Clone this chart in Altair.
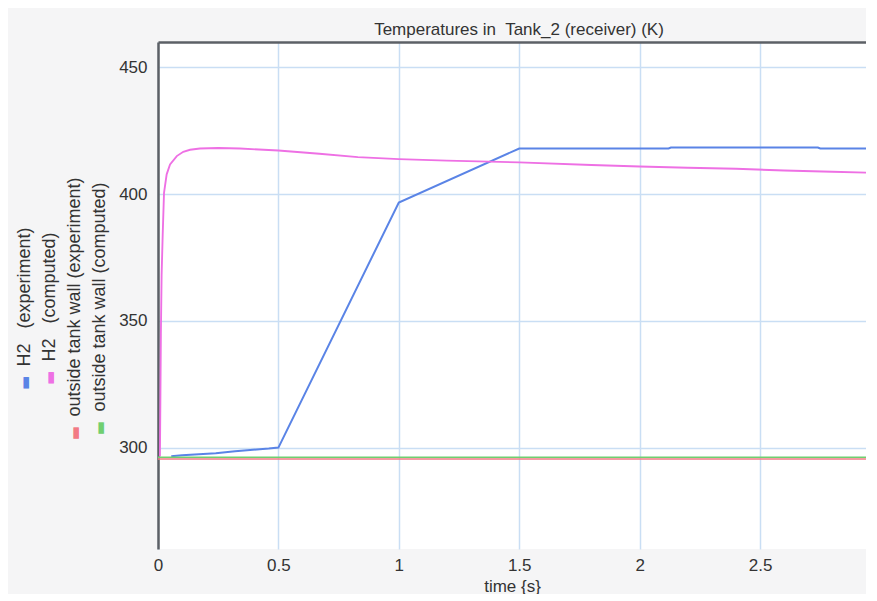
import altair as alt
import pandas as pd

# ---- data ----
series_names = [
    "H2 (experiment)",
    "H2 (computed)",
    "outside tank wall (experiment)",
    "outside tank wall (computed)",
]
legend_labels = [
    "H2\u00a0\u00a0\u00a0(experiment)",
    "H2\u00a0\u00a0\u00a0(computed)",
    "outside tank wall (experiment)",
    "outside tank wall (computed)",
]
series_colors = ["#5a84e6", "#ee70e4", "#f27a84", "#70cf70"]

h2_exp_time = [0.055, 0.10, 0.17, 0.24, 0.32, 0.37, 0.46, 0.50, 1.00, 1.50, 2.12, 2.13, 2.74, 2.75, 3.00]
h2_exp_temp = [296.6, 297.0, 297.4, 297.8, 298.6, 299.0, 299.6, 300.0, 396.7, 418.0, 418.0, 418.4, 418.4, 418.0, 418.0]

h2_comp_time = [0.008, 0.010, 0.012, 0.015, 0.0195, 0.025, 0.036, 0.05, 0.078, 0.105, 0.133, 0.174,
                0.25, 0.34, 0.50, 0.67, 0.83, 1.00, 1.20, 1.50, 1.80, 2.00, 2.20, 2.40, 2.60, 2.80, 3.00]
h2_comp_temp = [296.5, 320.0, 345.0, 368.0, 384.0, 400.5, 407.8, 411.7, 415.0, 416.7, 417.5, 418.0,
                418.2, 418.0, 417.2, 415.9, 414.6, 413.8, 413.2, 412.5, 411.5, 410.9, 410.4, 410.0, 409.3, 408.8, 408.3]

wall_exp_time = [0.0, 3.0]
wall_exp_temp = [295.5, 295.5]

wall_comp_time = [0.0, 3.0]
wall_comp_temp = [296.2, 296.2]

x_ticks = [0, 0.5, 1, 1.5, 2, 2.5, 3]
y_ticks = [300, 350, 400, 450]

# ---- tables ----
rows = []
for name, ts, vs in zip(series_names,
                        [h2_exp_time, h2_comp_time, wall_exp_time, wall_comp_time],
                        [h2_exp_temp, h2_comp_temp, wall_exp_temp, wall_comp_temp]):
    for i, (t, v) in enumerate(zip(ts, vs)):
        rows.append({"series": name, "t": t, "T": v, "i": i})
df = pd.DataFrame(rows)

legend_df = pd.DataFrame({"series": series_names, "label": legend_labels})

FONT = "Liberation Sans, Arial, Helvetica, sans-serif"
TEXT = "#333333"
GRID = "#c9def4"
AXIS = "#5c6066"

color_scale = alt.Scale(domain=series_names, range=series_colors)
x_scale = alt.Scale(domain=[0, 2.94], nice=False, zero=False)
y_scale = alt.Scale(domain=[260, 460], nice=False, zero=False)

y_axis = alt.Axis(values=y_ticks, title=None, ticks=False, labelPadding=11,
                  labelFontSize=17, labelColor=TEXT, labelFont=FONT,
                  domainColor=AXIS, domainWidth=2.5, gridColor=GRID, gridWidth=1.5)

x_axis_bottom = alt.Axis(values=x_ticks, format="~g", title="time {s}", ticks=False,
                         domain=False, labelPadding=8, labelFontSize=17, labelColor=TEXT,
                         labelFont=FONT, titleFont=FONT, titleFontSize=17, titleColor=TEXT,
                         titleFontWeight="normal", titlePadding=5,
                         gridColor=GRID, gridWidth=1.5, labelFlush=False)

x_axis_top = alt.Axis(orient="top", labels=False, ticks=False, grid=False, title=None,
                      domainColor=AXIS, domainWidth=2.5)

widths = alt.Scale(domain=series_names, range=[2, 1.6, 2.5, 2])

lines_main = alt.Chart(df).transform_filter(
    alt.datum.series != series_names[2]
).mark_line(interpolate="linear", clip=True).encode(
    x=alt.X("t:Q", scale=x_scale, axis=x_axis_bottom),
    y=alt.Y("T:Q", scale=y_scale, axis=y_axis),
    color=alt.Color("series:N", scale=color_scale, legend=None),
    strokeWidth=alt.StrokeWidth("series:N", scale=widths, legend=None),
    detail="series:N",
    order="i:Q",
)

line_red = alt.Chart(df).transform_filter(
    alt.datum.series == series_names[2]
).mark_line(interpolate="linear", clip=True).encode(
    x=alt.X("t:Q", scale=x_scale, axis=x_axis_top),
    y=alt.Y("T:Q", scale=y_scale, axis=y_axis),
    color=alt.Color("series:N", scale=color_scale, legend=None),
    strokeWidth=alt.StrokeWidth("series:N", scale=widths, legend=None),
    order="i:Q",
)

main = alt.layer(lines_main, line_red).resolve_axis(x="independent").properties(
    width=708, height=507,
    title=alt.Title("Temperatures in\u00a0 Tank_2 (receiver) (K)", fontSize=17, font=FONT,
                    color=TEXT, fontWeight="normal", offset=3, anchor="middle", dx=7),
    view=alt.ViewBackground(fill="white", stroke=None),
)

# ---- rotated legend (text widths from Arial / Liberation Sans advance widths) ----
ARIAL_W = {" ": 278, "\u00a0": 278, "H": 722, "2": 556, "(": 333, ")": 333, "e": 556,
           "x": 500, "p": 556, "r": 333, "i": 222, "m": 833, "n": 556, "t": 278,
           "c": 500, "o": 556, "u": 556, "d": 556, "s": 500, "a": 556, "k": 500,
           "w": 722, "l": 222}
LEG_SIZE = 18
GAP = 11
SWATCH = 11
LEG_CENTER = 266


def text_width(s, size):
    return sum(ARIAL_W.get(ch, 556) for ch in s) * size / 1000.0


legend_x = alt.X("series:N", sort=series_names, axis=None,
                 scale=alt.Scale(type="point", padding=0.66))

legend_layers = []
for name, lab in zip(series_names, legend_labels):
    w = text_width(lab, LEG_SIZE)
    legend_layers.append(
        alt.Chart(legend_df).transform_filter(alt.datum.series == name).mark_text(
            angle=270, align="center", baseline="middle", fontSize=15,
            font="DejaVu Sans", dx=-(w + GAP) / 2,
        ).encode(
            x=legend_x, y=alt.value(LEG_CENTER), text=alt.value("\u25ac"),
            color=alt.Color("series:N", scale=color_scale, legend=None),
        )
    )
legend_layers.append(
    alt.Chart(legend_df).mark_text(
        angle=270, align="center", baseline="middle", fontSize=LEG_SIZE, font=FONT,
        color=TEXT, dx=(SWATCH + GAP) / 2,
    ).encode(x=legend_x, y=alt.value(LEG_CENTER), text="label:N")
)
legend = alt.layer(*legend_layers).properties(
    width=108, height=507,
    view=alt.ViewBackground(fill=None, stroke=None),
)

chart = alt.hconcat(legend, main, spacing=2).resolve_scale(color="shared").properties(
    padding={"left": 0, "top": 13, "right": 0, "bottom": 0},
    background="#f5f5f6",
).configure_view(stroke=None)

chart.save("out.html", embed_options={"renderer": "svg", "actions": False})
